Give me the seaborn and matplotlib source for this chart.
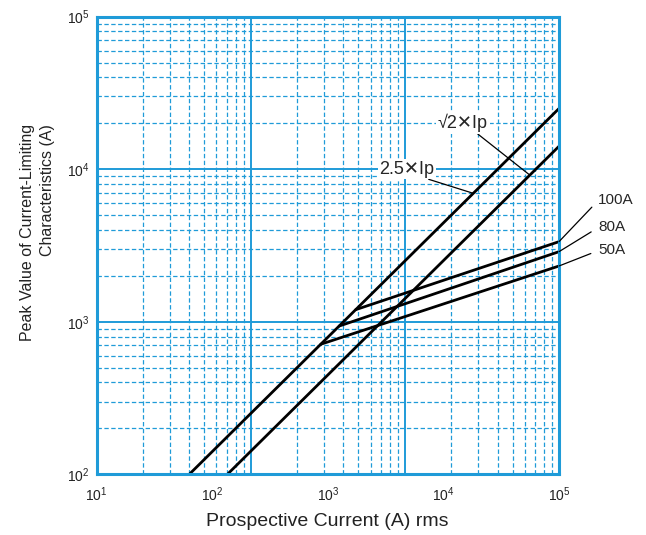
"""
限流特性曲线: 峰值电流 vs 预期电流 (双对数坐标)
"""

import numpy as np
import matplotlib
matplotlib.use('Agg')
import matplotlib.pyplot as plt
import seaborn as sns
from matplotlib.ticker import LogLocator, NullFormatter, NullLocator

sns.set_theme(style='white')
plt.rcParams['font.family'] = ['Liberation Sans', 'DejaVu Sans']
plt.rcParams['mathtext.fontset'] = 'custom'
plt.rcParams['mathtext.rm'] = 'Liberation Sans'
plt.rcParams['mathtext.it'] = 'Liberation Sans:italic'

# ============================================================================
# 数据
# ============================================================================
# 2.5 x Ip 直线
ip25_x = [40, 10000]
ip25_y = [100, 25000]

# sqrt(2) x Ip 直线
ipsq_x = [70.7, 10000]
ipsq_y = [100, 14140]

# 各额定电流的限流线
fuse_names = ['100A', '80A', '50A']
fuse_x = [[480, 10000], [375, 10000], [285, 10000]]
fuse_y = [[1200, 3350], [937, 2880], [712, 2320]]

# x 轴刻度标签 (原图标注 10^1 ~ 10^5)
x_tick_vals = [10, 100, 1000, 10000, 100000]
x_tick_labels = ['$10^1$', '$10^2$', '$10^3$', '$10^4$', '$10^5$']

grid_blue = '#1f9bd8'

# ============================================================================
# 绘图
# ============================================================================
fig = plt.figure(figsize=(6.46, 5.35), dpi=100)
ax = fig.add_axes([0.1494, 0.1135, 0.7159, 0.8553])
ax.set_xscale('log')
ax.set_yscale('log')
ax.set_xlim(10, 1e4)
ax.set_ylim(100, 1e5)

sns.lineplot(x=ip25_x, y=ip25_y, color='black', lw=2.0, ax=ax)
sns.lineplot(x=ipsq_x, y=ipsq_y, color='black', lw=2.0, ax=ax)
for name, fx, fy in zip(fuse_names, fuse_x, fuse_y):
    sns.lineplot(x=fx, y=fy, color='black', lw=2.0, ax=ax)

# 网格: 主刻度实线, 次刻度虚线
for axis in [ax.xaxis, ax.yaxis]:
    axis.set_major_locator(LogLocator(base=10, numticks=10))
    axis.set_minor_locator(LogLocator(base=10, subs=np.arange(2, 10), numticks=20))
    axis.set_minor_formatter(NullFormatter())
ax.set_axisbelow(True)
ax.grid(which='major', color=grid_blue, lw=1.4, ls='-')
ax.grid(which='minor', color=grid_blue, lw=0.9, ls=(0, (3.5, 2)))
ax.tick_params(which='both', length=0)
ax.tick_params(axis='x', labelbottom=False)
ax.tick_params(axis='y', labelsize=10, pad=5, labelcolor='#222222')
for sp in ax.spines.values():
    sp.set_color(grid_blue)
    sp.set_linewidth(2.2)

# x 轴标签 (使用独立的坐标轴显示原图刻度)
ax2 = ax.twiny()
ax2.set_xscale('log')
ax2.set_xlim(10, 1e5)
ax2.set_xticks(x_tick_vals, x_tick_labels)
ax2.xaxis.set_minor_locator(NullLocator())
ax2.tick_params(axis='x', top=False, labeltop=False, bottom=True, labelbottom=True,
                length=0, pad=8, labelsize=10, labelcolor='#222222')
for sp in ax2.spines.values():
    sp.set_visible(False)

ax.set_xlabel('Prospective Current (A) rms', fontsize=14, color='#222222')
ax.xaxis.set_label_coords(0.5, -0.085)
ax.set_ylabel('Peak Value of Current-Limiting\nCharacteristics (A)', fontsize=11.5,
              color='#222222', linespacing=1.4, multialignment='right')
ax.yaxis.set_label_coords(-0.09, 0.528)

# 注释
box = dict(boxstyle='square,pad=0.1', facecolor='white', edgecolor='none')
ax.annotate('√2✕Ip', xy=(6470, 9150), xytext=(463, 535 - 123), textcoords='figure pixels',
            fontsize=13, ha='center', va='center', bbox=box,
            arrowprops=dict(arrowstyle='-', color='black', lw=0.9, relpos=(0.75, 0.0),
                            shrinkA=0, shrinkB=0))
ax.annotate('2.5✕Ip', xy=(2780, 6950), xytext=(407, 535 - 169), textcoords='figure pixels',
            fontsize=13, ha='center', va='center', bbox=box,
            arrowprops=dict(arrowstyle='-', color='black', lw=0.9, relpos=(0.79, 0.0),
                            shrinkA=0, shrinkB=0))

label_y = [200, 227, 250]
for name, fx, fy, ly in zip(fuse_names, fuse_x, fuse_y, label_y):
    ax.annotate(name, xy=(fx[1], fy[1]), xytext=(598, 535 - ly), textcoords='figure pixels',
                fontsize=11, ha='left', va='center', annotation_clip=False,
                arrowprops=dict(arrowstyle='-', color='black', lw=0.9, relpos=(0.0, 0.45),
                                shrinkA=3, shrinkB=0))

plt.savefig('out.png', dpi=100)
plt.close()
